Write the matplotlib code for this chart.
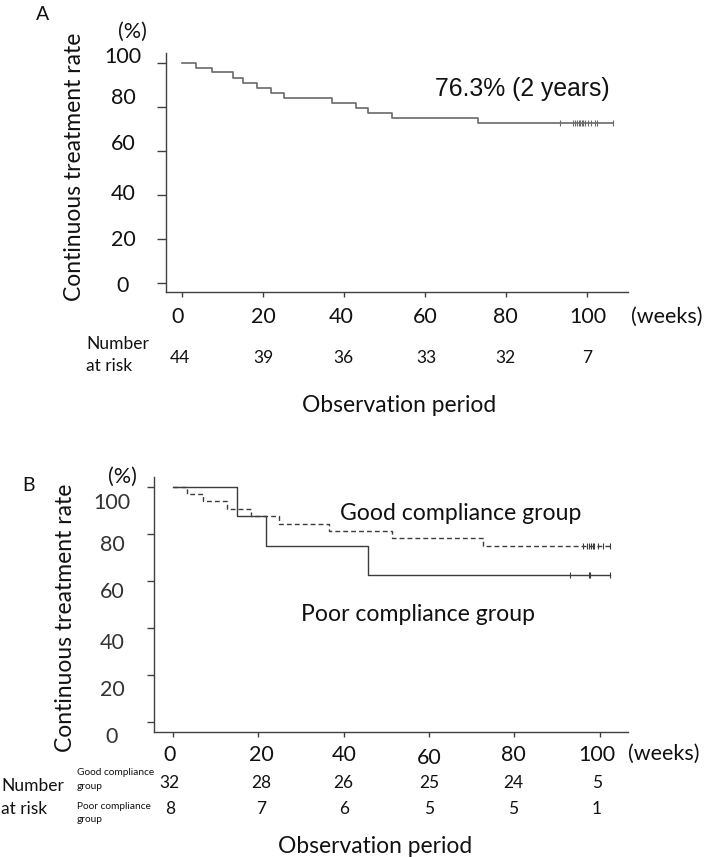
import matplotlib
matplotlib.use('Agg')
import matplotlib.pyplot as plt
import matplotlib.transforms as mtransforms
import numpy as np

# ---- values ----
xticks = [0, 20, 40, 60, 80, 100]
yticks = [0, 20, 40, 60, 80, 100]

# A: all patients
a_time = [0, 3.4, 7.3, 12.6, 15.0, 18.3, 22.0, 25.1, 36.9, 42.8, 45.9, 51.7, 72.9]
a_rate = [100, 97.7, 95.5, 93.2, 90.9, 88.6, 86.4, 84.1, 81.8, 79.5, 77.3, 75.0, 72.7]
a_end = 106.3
a_cens = [93.2, 96.4, 96.9, 97.4, 97.9, 98.2, 98.6, 98.9, 99.3, 100.2, 100.8, 101.9, 102.4, 106.3]
a_risk = [44, 39, 36, 33, 32, 7]

# B: good compliance group (dashed)
good_time = [0, 3.2, 7.1, 12.6, 18.2, 24.8, 36.6, 51.4, 72.7]
good_rate = [100, 96.9, 93.8, 90.6, 87.5, 84.4, 81.3, 78.1, 75.0]
good_end = 102.3
good_cens = [96.1, 96.9, 97.5, 98.0, 98.3, 98.7, 99.5, 100.7, 102.3]
good_risk = [32, 28, 26, 25, 24, 5]

# B: poor compliance group (solid)
poor_time = [0, 14.9, 21.9, 45.8]
poor_rate = [100, 87.5, 75.0, 62.5]
poor_end = 102.3
poor_cens = [93.1, 97.4, 97.8, 102.3]
poor_risk = [8, 7, 6, 5, 5, 1]

W, H = 709, 857
FONT = 'Lato'
AXC = '#404040'

fig = plt.figure(figsize=(W / 100, H / 100), dpi=100)


def em(size):
    return size / 0.72


def ftxt(x, y, s, size, ha='center', family=FONT, color='#111111'):
    # x, y in pixels from top-left, y = middle of the capitals
    fig.text(x / W, 1 - (y + 0.358 * em(size)) / H, s, fontsize=size, ha=ha,
             va='baseline', family=family, color=color)


def off(dx, dy):
    return mtransforms.ScaledTranslation(dx / 100, -dy / 100, fig.dpi_scale_trans)


def xrow(ax, vals, y, size, dx=None, dy=None, color='#111111'):
    tr = mtransforms.blended_transform_factory(ax.transData, fig.transFigure)
    for i, (t, v) in enumerate(zip(xticks, vals)):
        ox = dx[i] if dx else 0
        oy = dy[i] if dy else 0
        ax.text(t, 1 - (y + 0.358 * em(size)) / H, str(v), fontsize=size, ha='center',
                va='baseline', family=FONT, color=color,
                transform=tr + off(ox, oy), clip_on=False)


def ycol(ax, x, size, dy, color='#111111'):
    tr = mtransforms.blended_transform_factory(fig.transFigure, ax.transData)
    for t, o in zip(yticks, dy):
        ax.text(x / W, t, str(t), fontsize=size, ha='center', va='baseline',
                family=FONT, color=color,
                transform=tr + off(0, o + 0.358 * em(size)), clip_on=False)


def km(ax, time, rate, end, cens, **kw):
    ax.step(list(time) + [end], list(rate) + [rate[-1]], where='post', **kw)
    idx = np.searchsorted(time, cens, side='right') - 1
    lv = np.array(rate)[idx]
    ax.plot(cens, lv, ls='none', marker='|', ms=kw.get('ms_c', 4.5),
            mew=0.8, color=kw['color'])


def style(ax, xlim, ylim, ylen):
    ax.set_xlim(*xlim)
    ax.set_ylim(*ylim)
    for s in ['top', 'right']:
        ax.spines[s].set_visible(False)
    for s in ['left', 'bottom']:
        ax.spines[s].set_color(AXC)
        ax.spines[s].set_linewidth(1.0)
    ax.set_xticks(xticks)
    ax.set_yticks(yticks)
    ax.tick_params(axis='y', direction='out', length=ylen, width=1.0, color=AXC,
                   labelleft=False)
    ax.tick_params(axis='x', direction='out', length=3.6, width=1.0, color=AXC,
                   labelbottom=False)


# ---------------- panel A ----------------
axA = fig.add_axes([0.2337, 0.6589, 0.6525, 0.2792])
style(axA, (-4.12, 110.1), (-4.08, 104.3), 6.5)
km(axA, a_time, a_rate, a_end, a_cens, color='#6a6a6a', lw=1.2)

ycol(axA, 123, 15.5, [1.2, -1.3, -2.5, -8.3, -10, -7.5])
xrow(axA, xticks, 315, 15.5, dx=[-5, 0, -3, 0, -1, 0])
xrow(axA, a_risk, 357, 12.5, dx=[-2, 0, -1, 1, -1, 0])

ftxt(43, 13.5, 'A', 14)
ftxt(132, 30, '(%)', 15.5)
ftxt(666.5, 315, '(weeks)', 15.5)
ftxt(522.5, 87.5, '76.3% (2 years)', 17.8, family='Liberation Sans')
ftxt(86, 343, 'Number', 12.5, ha='left')
ftxt(86, 365, 'at risk', 12.5, ha='left')
ftxt(398.6, 403.5, 'Observation period', 16.4)
fig.text((72.5 + 0.358 * em(16.5)) / W, 1 - 166.5 / H, 'Continuous treatment rate',
         fontsize=16.5, family=FONT, rotation=90, rotation_mode='anchor',
         ha='center', va='baseline', color='#111111')

# ---------------- panel B ----------------
axB = fig.add_axes([0.2176, 0.1462, 0.6681, 0.2968])
style(axB, (-4.38, 106.6), (-4.0, 104.0), 5.4)
km(axB, poor_time, poor_rate, poor_end, poor_cens, color='#3c3c3c', lw=1.0)
km(axB, good_time, good_rate, good_end, good_cens, color='#3c3c3c', lw=1.0,
   dashes=(3.5, 2.2))

bdx = [-3.2, 3.3, 0, 0, -1.4, -3.2]
ycol(axB, 112, 15.5, [12.7, 13.3, 13.4, 9, 9.3, 15], color='#333333')
xrow(axB, xticks, 753, 15.5, dx=bdx, dy=[0, 0, 0, 3.7, 0, 0])
xrow(axB, good_risk, 781.7, 12.5, dx=bdx)
xrow(axB, poor_risk, 807.3, 12.5, dx=bdx)

ftxt(28.5, 484, 'B', 14)
ftxt(122.5, 475, '(%)', 15.5)
ftxt(664, 751.7, '(weeks)', 15.5)
ftxt(1, 784.3, 'Number', 12.5, ha='left')
ftxt(1, 807.7, 'at risk', 12.5, ha='left')
ftxt(77, 771.7, 'Good compliance', 7.3, ha='left')
ftxt(77, 785, 'group', 7.3, ha='left')
ftxt(77, 805, 'Poor compliance', 7.3, ha='left')
ftxt(77, 818.3, 'group', 7.3, ha='left')
ftxt(374.6, 845, 'Observation period', 16.4)
ftxt(460.8, 511.5, 'Good compliance group', 16.6)
ftxt(418, 613, 'Poor compliance group', 16.6)
fig.text((63.5 + 0.358 * em(16.5)) / W, 1 - 618 / H, 'Continuous treatment rate',
         fontsize=16.5, family=FONT, rotation=90, rotation_mode='anchor',
         ha='center', va='baseline', color='#111111')

fig.savefig('out.png', dpi=100)
